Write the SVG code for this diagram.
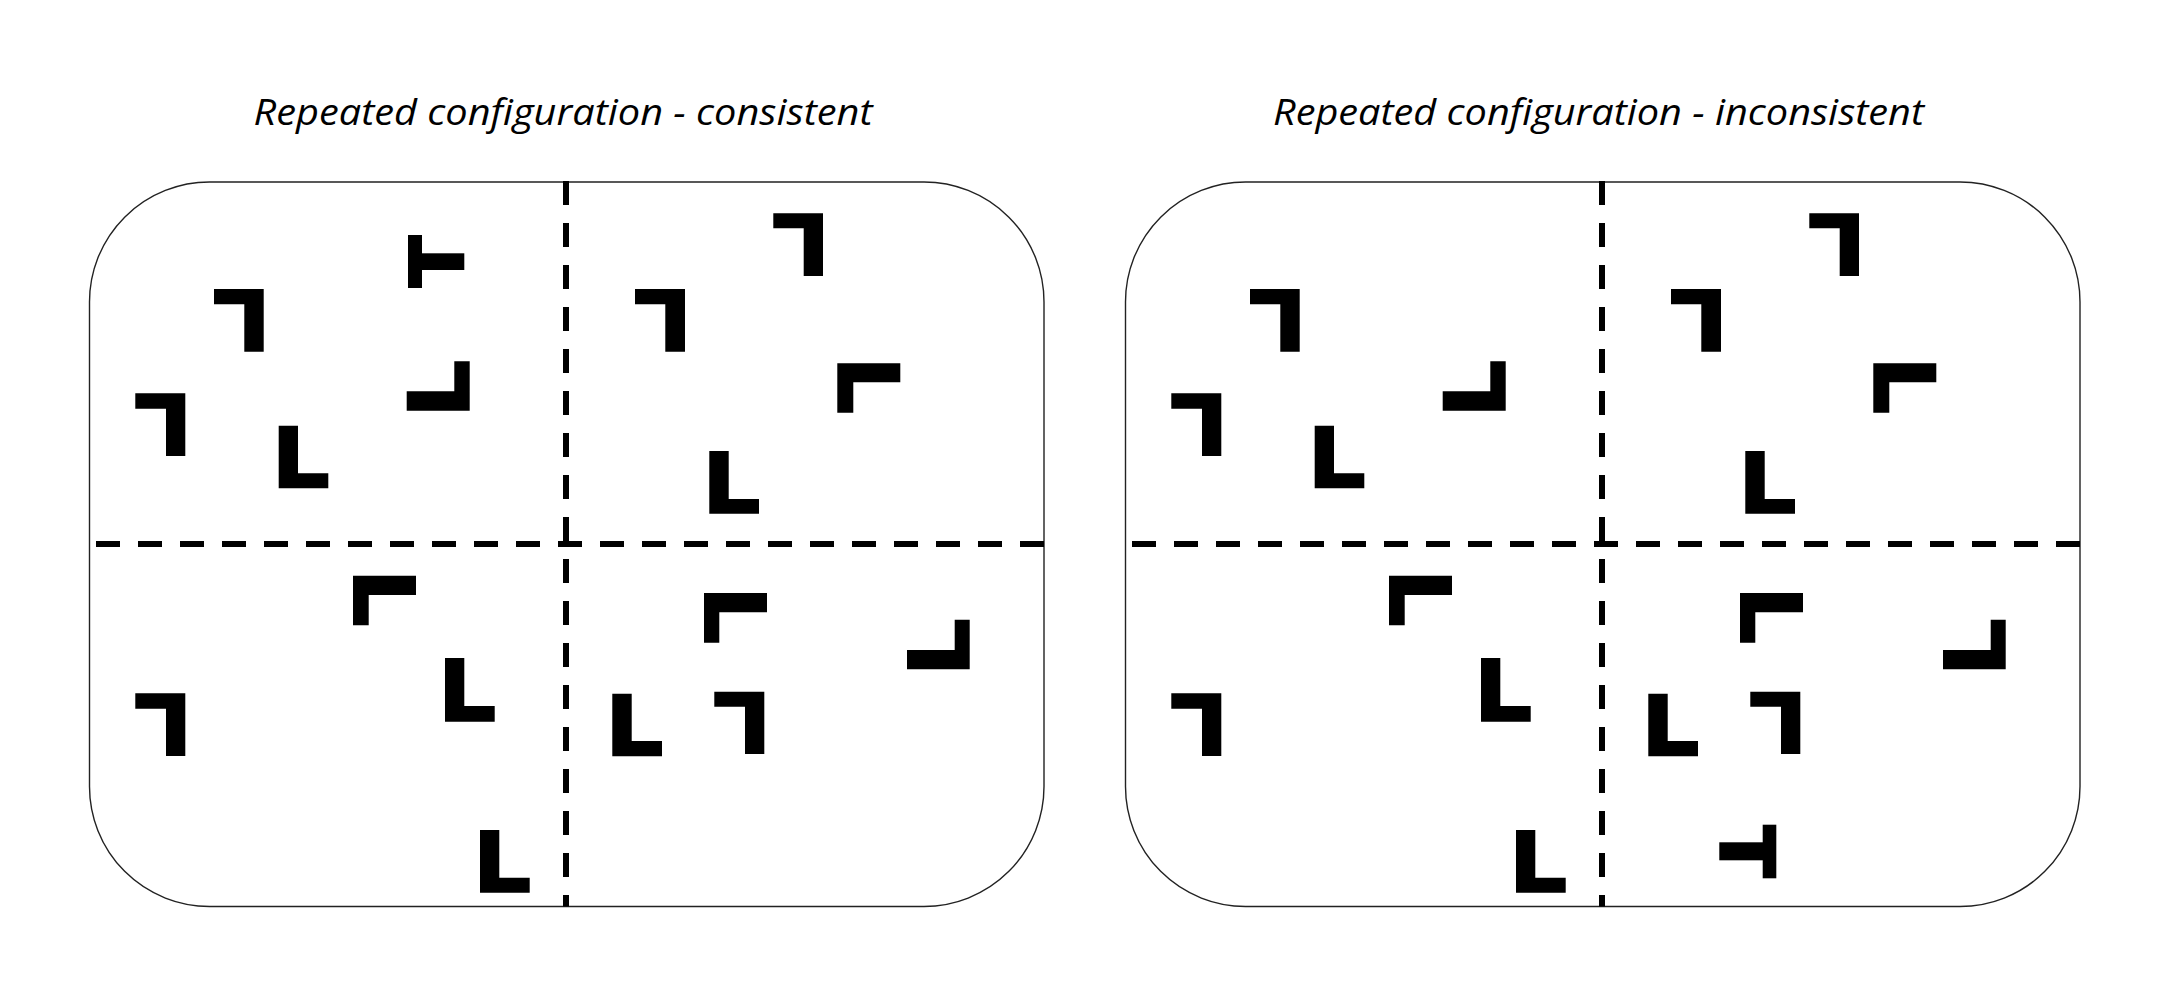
<svg xmlns="http://www.w3.org/2000/svg" width="2172" height="997" viewBox="0 0 2172 997">
<style>
.title{font-family:"Open Sans","Liberation Sans",sans-serif;font-style:italic;font-size:37px;fill:#000}
.box{fill:#fff;stroke:#222;stroke-width:1.4}
.dash{stroke:#000;stroke-width:6;fill:none;stroke-dasharray:24 18}
.s{fill:#000}
</style>
<rect width="2172" height="997" fill="#fff"/>
<text id="title-left" class="title" x="563" y="124.5" text-anchor="middle" textLength="619" lengthAdjust="spacingAndGlyphs">Repeated configuration - consistent</text>
<text id="title-right" class="title" x="1598.5" y="124.5" text-anchor="middle" textLength="651" lengthAdjust="spacingAndGlyphs">Repeated configuration - inconsistent</text>

<g id="panel-left">
<rect id="box-left" class="box" x="89.5" y="182" width="954.5" height="724.5" rx="120" ry="120"/>
<g id="dividers-left">
<line class="dash" x1="566" y1="181" x2="566" y2="906.5"/>
<line class="dash" x1="96" y1="544" x2="1044" y2="544"/>
</g>
<g id="shapes-left">
<g id="L-T1"><rect class="s" x="408" y="235" width="14" height="53"/><rect class="s" x="421.5" y="253.3" width="42.8" height="16.7"/></g>
<path id="L-q1a" class="s" d="M214,289 H263.7 V351.7 H244.3 V304.3 H214 Z"/>
<path id="L-q1b" class="s" d="M135.3,393.3 H185.3 V456 H166 V408.7 H135.3 Z"/>
<path id="L-q1c" class="s" d="M278.7,425.7 H298 V473.3 H328.3 V488.3 H278.7 Z"/>
<path id="L-q1d" class="s" d="M454.3,361.3 H469.7 V410.7 H406.7 V391.3 H454.3 Z"/>
<path id="L-q2a" class="s" d="M773.3,213.3 H823 V276 H803.7 V228.3 H773.3 Z"/>
<path id="L-q2b" class="s" d="M635,289 H685 V351.7 H665.3 V304.3 H635 Z"/>
<path id="L-q2c" class="s" d="M837.3,363.3 H900.3 V382.3 H853.3 V412.7 H837.3 Z"/>
<path id="L-q2d" class="s" d="M709.3,451 H728.7 V499 H759 V513.7 H709.3 Z"/>
<path id="L-q3a" class="s" d="M353,575.7 H416 V595 H368.7 V625.3 H353 Z"/>
<path id="L-q3b" class="s" d="M135.3,693.3 H185.3 V756 H166 V708.7 H135.3 Z"/>
<path id="L-q3c" class="s" d="M445,658 H464.3 V706 H494.7 V721.7 H445 Z"/>
<path id="L-q3d" class="s" d="M480,830 H499.3 V877.7 H529.7 V892.7 H480 Z"/>
<path id="L-q4a" class="s" d="M704,593 H767 V612.3 H719.3 V642.7 H704 Z"/>
<path id="L-q4b" class="s" d="M954.7,619.7 H969.7 V669.3 H907 V650 H954.7 Z"/>
<path id="L-q4c" class="s" d="M612.3,693.7 H631.7 V741 H662 V756.3 H612.3 Z"/>
<path id="L-q4d" class="s" d="M714.3,691.7 H764.3 V754 H745 V706.7 H714.3 Z"/>
</g>
</g>

<g id="panel-right" transform="translate(1036,0)">
<rect id="box-right" class="box" x="89.5" y="182" width="954.5" height="724.5" rx="120" ry="120"/>
<g id="dividers-right">
<line class="dash" x1="566" y1="181" x2="566" y2="906.5"/>
<line class="dash" x1="96" y1="544" x2="1044" y2="544"/>
</g>
<g id="shapes-right">
<path id="R-q1a" class="s" d="M214,289 H263.7 V351.7 H244.3 V304.3 H214 Z"/>
<path id="R-q1b" class="s" d="M135.3,393.3 H185.3 V456 H166 V408.7 H135.3 Z"/>
<path id="R-q1c" class="s" d="M278.7,425.7 H298 V473.3 H328.3 V488.3 H278.7 Z"/>
<path id="R-q1d" class="s" d="M454.3,361.3 H469.7 V410.7 H406.7 V391.3 H454.3 Z"/>
<path id="R-q2a" class="s" d="M773.3,213.3 H823 V276 H803.7 V228.3 H773.3 Z"/>
<path id="R-q2b" class="s" d="M635,289 H685 V351.7 H665.3 V304.3 H635 Z"/>
<path id="R-q2c" class="s" d="M837.3,363.3 H900.3 V382.3 H853.3 V412.7 H837.3 Z"/>
<path id="R-q2d" class="s" d="M709.3,451 H728.7 V499 H759 V513.7 H709.3 Z"/>
<path id="R-q3a" class="s" d="M353,575.7 H416 V595 H368.7 V625.3 H353 Z"/>
<path id="R-q3b" class="s" d="M135.3,693.3 H185.3 V756 H166 V708.7 H135.3 Z"/>
<path id="R-q3c" class="s" d="M445,658 H464.3 V706 H494.7 V721.7 H445 Z"/>
<path id="R-q3d" class="s" d="M480,830 H499.3 V877.7 H529.7 V892.7 H480 Z"/>
<path id="R-q4a" class="s" d="M704,593 H767 V612.3 H719.3 V642.7 H704 Z"/>
<path id="R-q4b" class="s" d="M954.7,619.7 H969.7 V669.3 H907 V650 H954.7 Z"/>
<path id="R-q4c" class="s" d="M612.3,693.7 H631.7 V741 H662 V756.3 H612.3 Z"/>
<path id="R-q4d" class="s" d="M714.3,691.7 H764.3 V754 H745 V706.7 H714.3 Z"/>
<g id="R-T1"><rect class="s" x="726.7" y="824.7" width="13.6" height="53.6"/><rect class="s" x="683.3" y="842.3" width="43.9" height="18"/></g>
</g>
</g>
</svg>
